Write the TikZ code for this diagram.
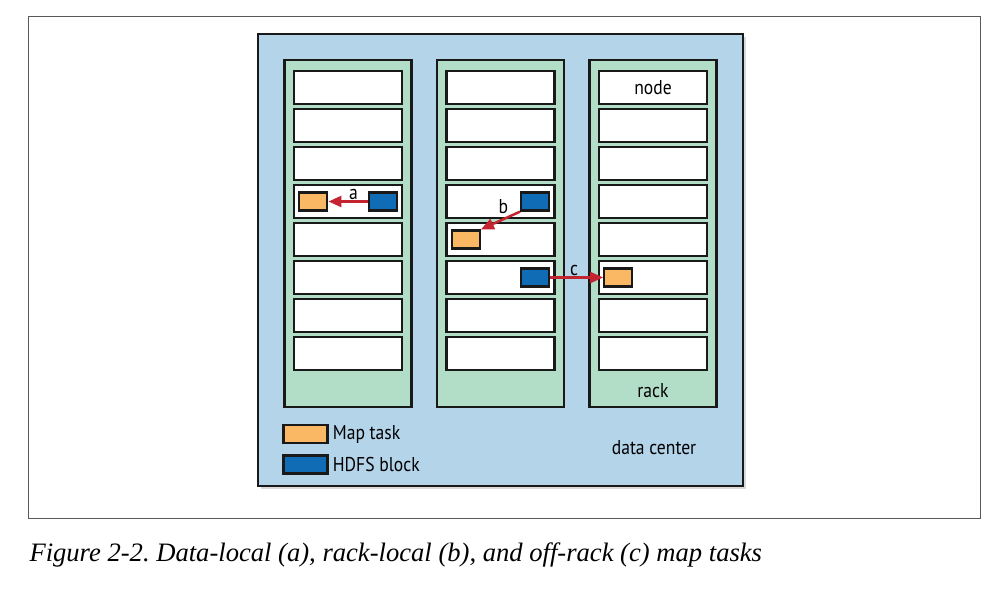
\documentclass[tikz,border=0pt]{standalone}
\usepackage{fontspec}
\setmainfont{Liberation Serif}
\newfontfamily\lblfont{PT Sans}[FakeStretch=0.88]
\usetikzlibrary{positioning, arrows.meta, shadows}

\definecolor{dcblue}{HTML}{B4D4EA}
\definecolor{rackgreen}{HTML}{B2DEC8}
\definecolor{taskorange}{HTML}{FAB764}
\definecolor{blockblue}{HTML}{106CB4}
\definecolor{movered}{HTML}{C42430}

\begin{document}
\frenchspacing
\begin{tikzpicture}[x=1pt, y=-1pt,
	dcbox/.style={draw=black!90, line width=2.7pt, fill=dcblue, minimum width=485pt, minimum height=452pt,
		drop shadow={shadow xshift=3pt, shadow yshift=-3pt, opacity=0.3}},
	rackbox/.style={draw=black!90, line width=2.7pt, fill=rackgreen, minimum width=127pt, minimum height=347pt},
	nodebox/.style={draw=black!90, line width=2.7pt, fill=white, minimum width=108pt, minimum height=33pt},
	maptask/.style={draw=black!90, line width=2.3pt, fill=taskorange, minimum width=28pt, minimum height=18pt, inner sep=0pt},
	hdfsblock/.style={maptask, fill=blockblue},
	move/.style={draw=movered, line width=2.5pt, -{Triangle[length=13pt, width=11pt]}},
	lbl/.style={font=\lblfont\fontsize{20}{24}\selectfont, text=black, inner sep=1pt}]
	
	\useasboundingbox (0,0) rectangle (998,592);
	\draw[gray!70!black, line width=1pt] (28.5,16.5) rectangle (980,518);
	
	\node[dcbox] (dc) at (500.5,260) {};
	
	% racks and their nodes
	\foreach \r/\x in {1/348, 2/500.5, 3/653} {
		\node[rackbox] (rack-\r) at (\x,233.5) {};
		\foreach \n in {1,...,8}
			\node[nodebox] (n-\r-\n) at (\x,49.5+38*\n) {};
	}
	\node[lbl] (nodelbl) at (n-3-1) {node};
	\node[lbl] (racklbl) at (653,391) {rack};
	\node[lbl] (dclbl) at (654,448) {data center};
	
	% tasks and blocks
	\node[maptask, right=5.5pt of n-1-4.west] (map1) {};
	\node[hdfsblock, left=5.5pt of n-1-4.east] (blk1) {};
	\node[hdfsblock, left=5.5pt of n-2-4.east] (blk2) {};
	\node[maptask, right=5.5pt of n-2-5.west] (map2) {};
	\node[hdfsblock, left=5.5pt of n-2-6.east] (blk3) {};
	\node[maptask, right=5.5pt of n-3-6.west] (map3) {};
	
	\draw[move] (blk1) -- node[lbl, above, pos=0.36] {a} (map1);
	\draw[move] (blk2.south west) -- node[lbl, pos=0.25, above left=0pt] {b} (map2.north east);
	\draw[move] (blk3) -- node[lbl, above, pos=0.45] {c} (map3);
	
	% key
	\node[maptask, minimum width=44pt] (key-map) at (305.5,434) {};
	\node[hdfsblock, minimum width=44pt] (key-blk) at (305.5,464.5) {};
	\node[lbl, right=3pt of key-map] (key-maplbl) {Map task};
	\node[lbl, right=3pt of key-blk] (key-blklbl) {HDFS block};
	
	\node[anchor=base west, inner sep=0pt, font=\itshape\fontsize{26.6}{32}\selectfont] (caption) at (29.3,561)
		{Figure 2-2. Data-local (a), rack-local (b), and off-rack (c) map tasks};
\end{tikzpicture}
\end{document}
